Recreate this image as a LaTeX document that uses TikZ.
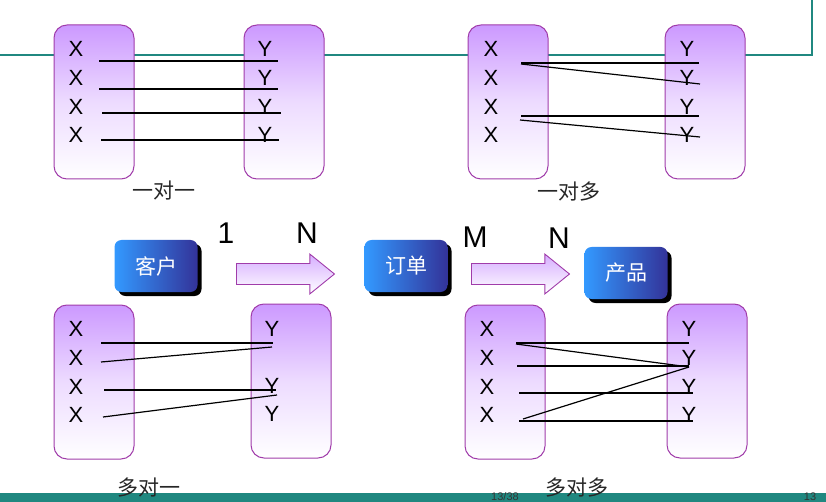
\documentclass[tikz,border=0pt]{standalone}
\usepackage{fontspec}
\setmainfont{Liberation Sans}
\newfontfamily\cjk{Noto Sans CJK SC}
\usetikzlibrary{shapes.arrows,shadows}
\definecolor{teal1}{RGB}{32,136,128}
\definecolor{boxtop}{RGB}{204,153,255}
\definecolor{boxborder}{RGB}{160,60,170}
\definecolor{bluel}{RGB}{51,153,255}
\definecolor{bluer}{RGB}{51,51,153}
\tikzset{
  setbox/.style={draw=boxborder, line width=1pt, rounded corners=13pt,
    top color=boxtop, bottom color=white, middle color=boxtop!35, minimum width=80pt, minimum height=154pt, inner sep=0pt},
  lt/.style={font=\fontsize{22}{22}\selectfont, inner sep=0pt},
  bigl/.style={font=\fontsize{30}{30}\selectfont, inner sep=0pt},
  captext/.style={font=\cjk\fontsize{21}{21}\selectfont, text=black!85, inner sep=0pt},
  link/.style={line width=1.2pt, black},
  bluebox/.style={rounded corners=7pt, left color=bluel, right color=bluer,
    minimum width=83pt, minimum height=52pt, inner sep=0pt, text=white,
    font=\cjk\fontsize{21}{21}\selectfont,
    drop shadow={shadow xshift=4pt, shadow yshift=-4pt, fill=black, opacity=1}},
  fatarrow/.style={single arrow, draw=boxborder, line width=0.9pt, top color=boxtop!80, bottom color=white,
    minimum height=98pt, inner xsep=0pt, inner ysep=10pt, single arrow head extend=9.5pt,
    single arrow tip angle=78},
  teal line/.style={draw=teal1, line width=1.3pt},
  pagenum/.style={font=\fontsize{11}{11}\selectfont, text=black!80, inner sep=0pt}
}
\begin{document}
\begin{tikzpicture}[x=1pt,y=-1pt]
\useasboundingbox (0,0) rectangle (826,502);
% top teal frame line
\coordinate (tl0) at (0,55);
\coordinate (tl1) at (812,55);
\coordinate (tl2) at (812,0);
\draw[teal line] (tl0) -- (tl1) -- (tl2);
% bottom bar
\fill[teal1] (0,493) rectangle (826,502);
\node[pagenum] (pg) at (505,497) {13/38};
\node[pagenum] (pgr) at (810,497) {13};

% ---------- one to one ----------
\node[setbox] (ax) at (94,102) {};
\node[setbox] (ay) at (284,102) {};
\foreach \i/\y in {1/49,2/78,3/107,4/135}{
  \node[lt] (ax\i) at (76,\y) {X};
  \node[lt] (ay\i) at (265,\y) {Y};
}
\coordinate (a1s) at (99,61);  \coordinate (a1e) at (278,61);
\coordinate (a2s) at (99,89);  \coordinate (a2e) at (278,89);
\coordinate (a3s) at (102,113); \coordinate (a3e) at (281,113);
\coordinate (a4s) at (101,140); \coordinate (a4e) at (279,140);
\draw[link] (a1s) -- (a1e);
\draw[link] (a2s) -- (a2e);
\draw[link] (a3s) -- (a3e);
\draw[link] (a4s) -- (a4e);
\node[captext] (acap) at (164,191) {一对一};

% ---------- one to many ----------
\node[setbox] (bx) at (508,102) {};
\node[setbox] (by) at (705,102) {};
\foreach \i/\y in {1/49,2/78,3/107,4/135}{
  \node[lt] (bx\i) at (491,\y) {X};
  \node[lt] (by\i) at (687,\y) {Y};
}
\coordinate (b1s) at (521,63);  \coordinate (b1e) at (699,63);
\coordinate (b2s) at (521,64);  \coordinate (b2e) at (700,84);
\coordinate (b3s) at (521,116); \coordinate (b3e) at (699,116);
\coordinate (b4s) at (520,120); \coordinate (b4e) at (700,137);
\draw[link] (b1s) -- (b1e);
\draw[link] (b2s) -- (b2e);
\draw[link] (b3s) -- (b3e);
\draw[link] (b4s) -- (b4e);
\node[captext] (bcap) at (569,192) {一对多};

% ---------- many to one ----------
\node[setbox] (cx) at (94,382) {};
\node[setbox] (cy) at (291,381) {};
\foreach \i/\y in {1/329,2/358,3/387,4/415}{
  \node[lt] (cx\i) at (76,\y) {X};
}
\node[lt] (cy1) at (272,329) {Y};
\node[lt] (cy2) at (272,386) {Y};
\node[lt] (cy3) at (272,414) {Y};
\coordinate (c1s) at (101,343); \coordinate (c1e) at (273,343);
\coordinate (c2s) at (101,362); \coordinate (c2e) at (272,347);
\coordinate (c3s) at (104,390); \coordinate (c3e) at (276,390);
\coordinate (c4s) at (103,417); \coordinate (c4e) at (277,395);
\draw[link] (c1s) -- (c1e);
\draw[link] (c2s) -- (c2e);
\draw[link] (c3s) -- (c3e);
\draw[link] (c4s) -- (c4e);
\node[captext] (ccap) at (149,488) {多对一};

% ---------- many to many ----------
\node[setbox] (dx) at (505,382) {};
\node[setbox] (dy) at (707,381) {};
\foreach \i/\y in {1/329,2/358,3/387,4/415}{
  \node[lt] (dx\i) at (487,\y) {X};
  \node[lt] (dy\i) at (689,\y) {Y};
}
\coordinate (d1s) at (516,343); \coordinate (d1e) at (689,343);
\coordinate (d2s) at (516,344); \coordinate (dm) at (689,367);
\coordinate (d3s) at (517,366); \coordinate (d3e) at (689,366);
\coordinate (d4s) at (519,393); \coordinate (d4e) at (693,393);
\coordinate (d5s) at (523,419);
\coordinate (d6s) at (519,421); \coordinate (d6e) at (693,421);
\draw[link] (d1s) -- (d1e);
\draw[link] (d2s) -- (dm);
\draw[link] (d3s) -- (d3e);
\draw[link] (d4s) -- (d4e);
\draw[link] (d5s) -- (dm);
\draw[link] (d6s) -- (d6e);
\node[captext] (dcap) at (577,488) {多对多};

% ---------- middle row ----------
\node[bluebox] (kehu) at (156,266) {客户};
\node[bluebox] (dingdan) at (406,266) {订单};
\node[bluebox] (chanpin) at (626,273) {产品};
\node[fatarrow] (arr1) at (279,274) {};
\node[fatarrow] (arr2) at (514,274) {};
\node[bigl] (l1) at (226,233) {1};
\node[bigl] (lN1) at (307,233) {N};
\node[bigl] (lM) at (475,237) {M};
\node[bigl] (lN2) at (559,238) {N};
\end{tikzpicture}
\end{document}
